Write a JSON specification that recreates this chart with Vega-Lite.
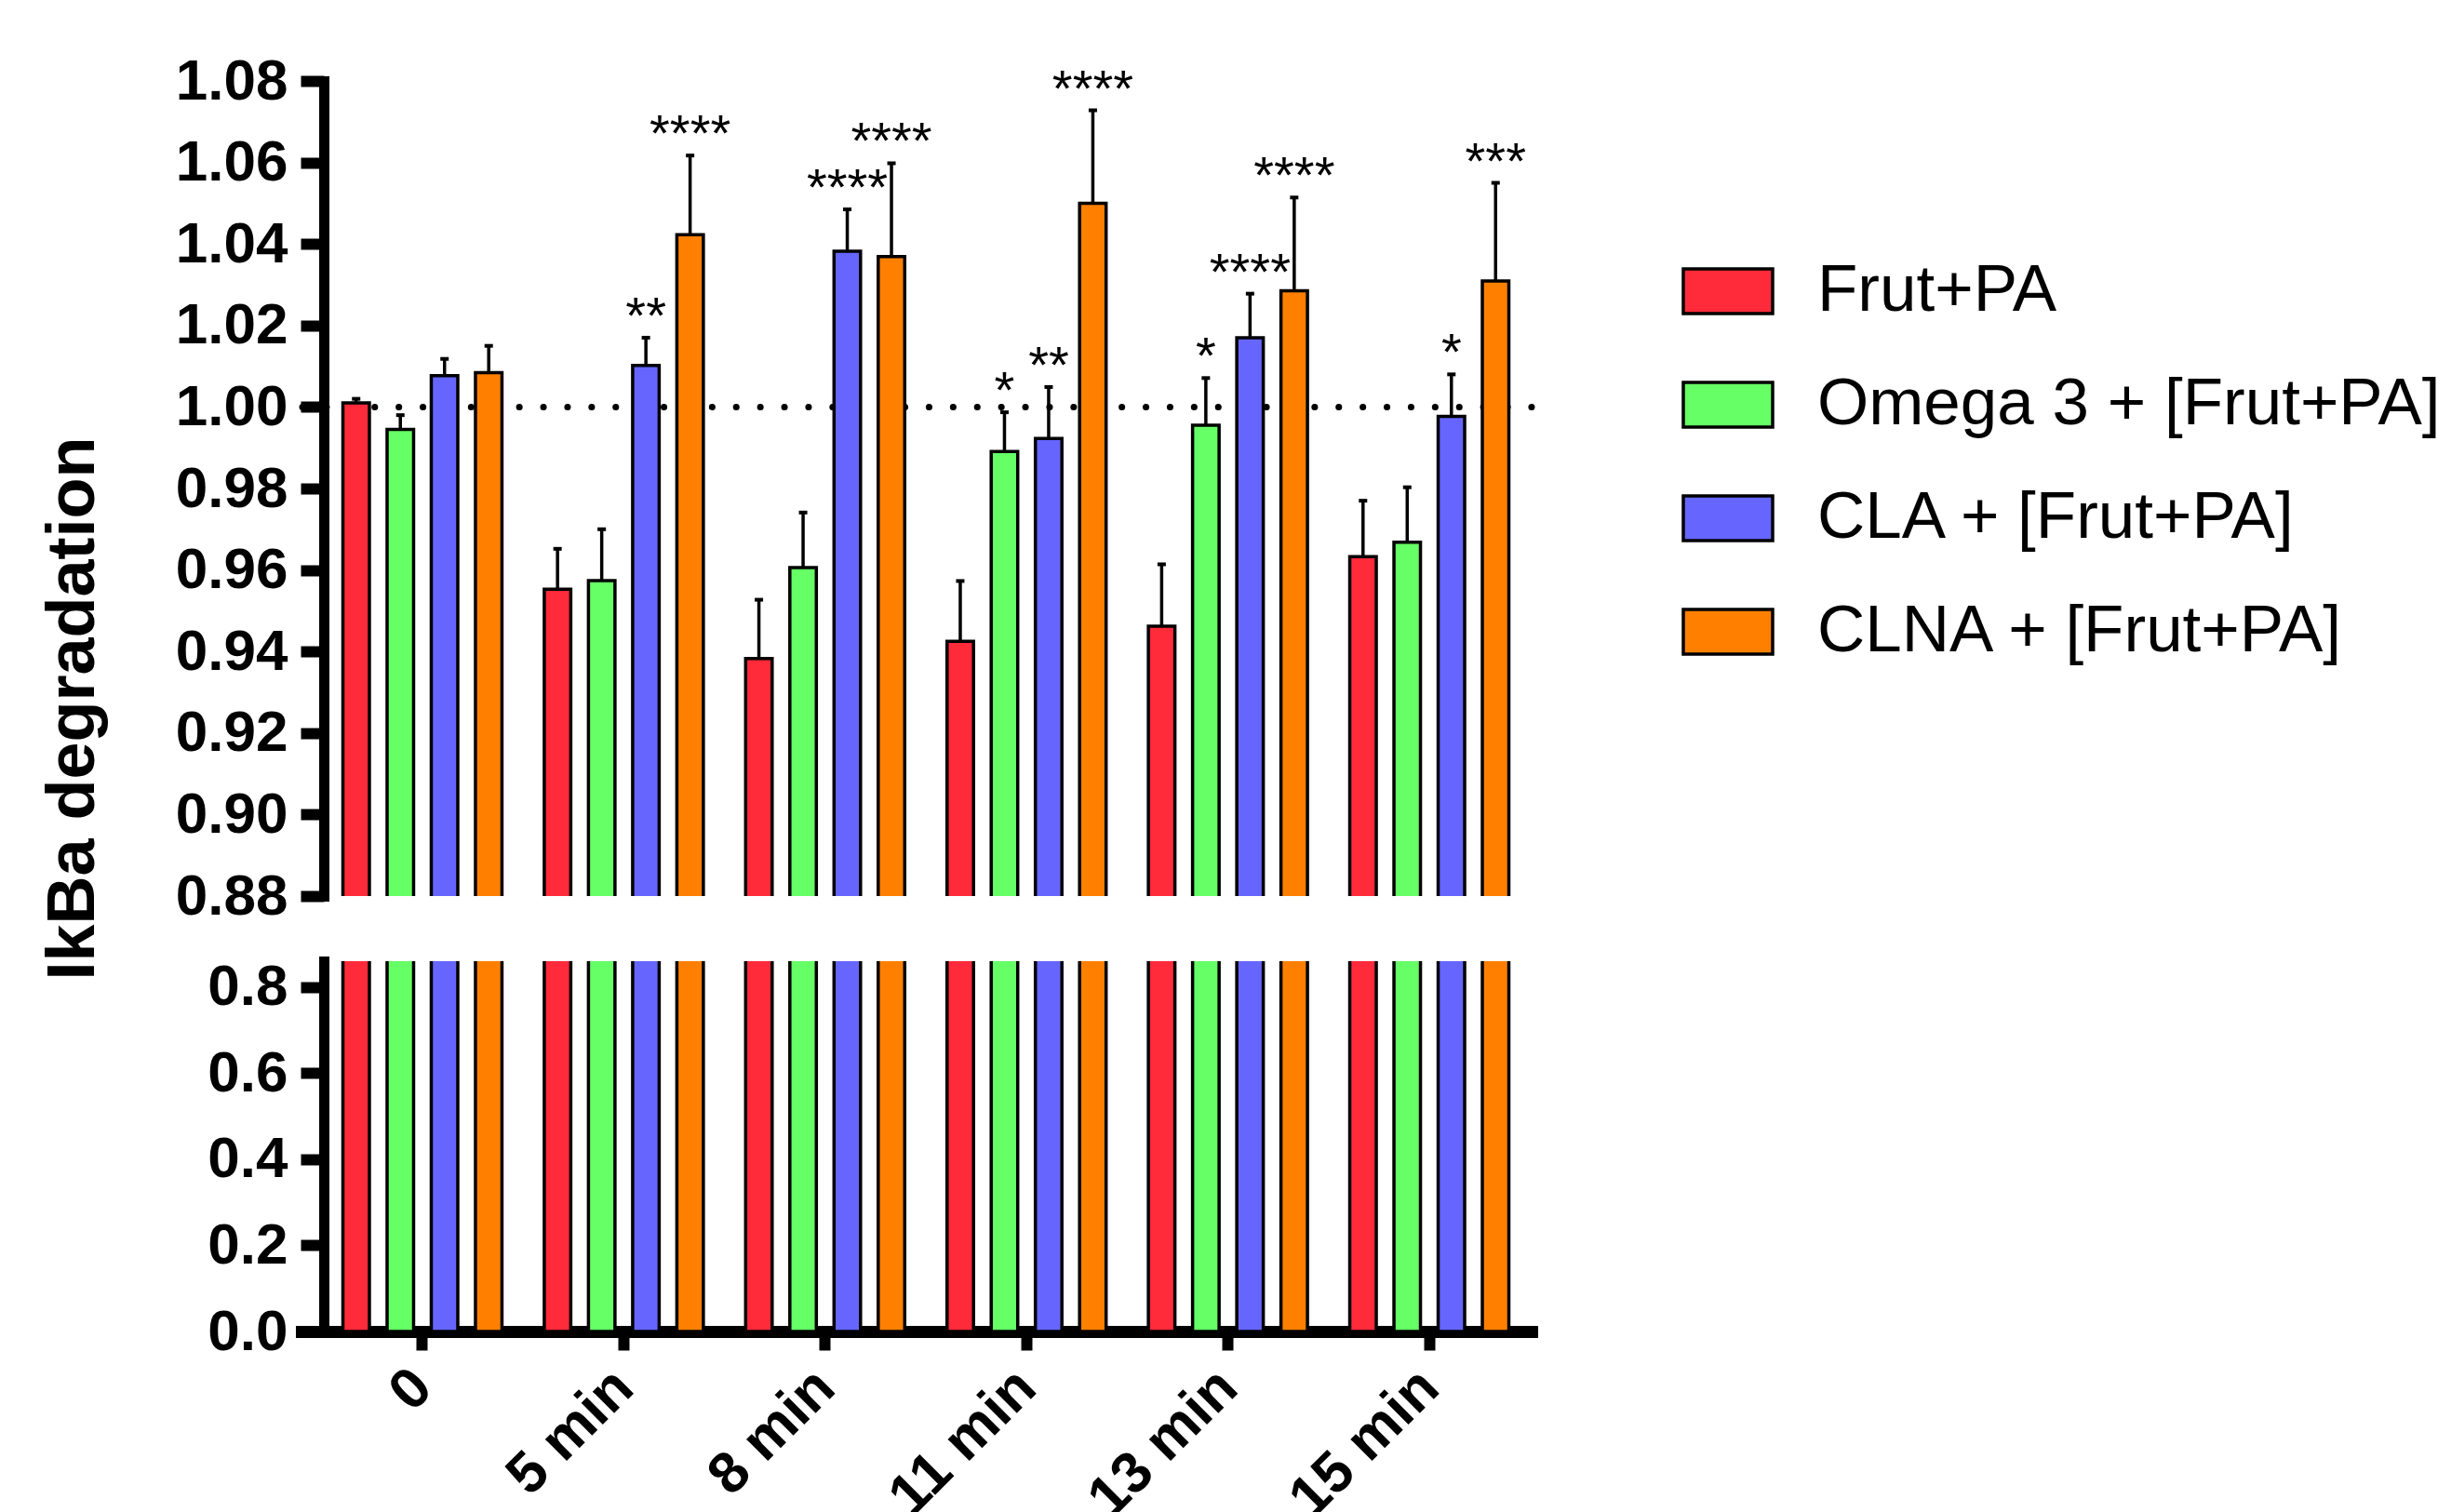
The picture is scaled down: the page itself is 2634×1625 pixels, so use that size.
{
  "$schema": "https://vega.github.io/schema/vega-lite/v6.json",
  "background": "white",
  "padding": {"left": 42, "top": 56, "right": 0, "bottom": 0},
  "autosize": {"type": "pad"},
  "bounds": "flush",
  "spacing": 70,
  "config": {
    "font": "Liberation Sans",
    "view": {"stroke": null},
    "axis": {
      "domainColor": "black", "tickColor": "black", "labelColor": "black", "titleColor": "black",
      "grid": false, "labelFont": "Liberation Sans", "labelFontWeight": "bold", "labelFontSize": 62,
      "domainWidth": 11, "tickWidth": 12, "domainCap": "square", "labelLimit": 1000
    }
  },
  "datasets": {
    "bars": [
      {"time": "0", "group": "Frut+PA", "mean": 1.001, "upper": 1.002, "stars": ""},
      {"time": "0", "group": "Omega 3 + [Frut+PA]", "mean": 0.9945, "upper": 0.998, "stars": ""},
      {"time": "0", "group": "CLA + [Frut+PA]", "mean": 1.0077, "upper": 1.0118, "stars": ""},
      {"time": "0", "group": "CLNA + [Frut+PA]", "mean": 1.0084, "upper": 1.015, "stars": ""},
      {"time": "5 min", "group": "Frut+PA", "mean": 0.9553, "upper": 0.9652, "stars": ""},
      {"time": "5 min", "group": "Omega 3 + [Frut+PA]", "mean": 0.9574, "upper": 0.97, "stars": ""},
      {"time": "5 min", "group": "CLA + [Frut+PA]", "mean": 1.0102, "upper": 1.017, "stars": "**"},
      {"time": "5 min", "group": "CLNA + [Frut+PA]", "mean": 1.0423, "upper": 1.0617, "stars": "****"},
      {"time": "8 min", "group": "Frut+PA", "mean": 0.9383, "upper": 0.9527, "stars": ""},
      {"time": "8 min", "group": "Omega 3 + [Frut+PA]", "mean": 0.9606, "upper": 0.9741, "stars": ""},
      {"time": "8 min", "group": "CLA + [Frut+PA]", "mean": 1.0382, "upper": 1.0485, "stars": "****"},
      {"time": "8 min", "group": "CLNA + [Frut+PA]", "mean": 1.0369, "upper": 1.0598, "stars": "****"},
      {"time": "11 min", "group": "Frut+PA", "mean": 0.9425, "upper": 0.9573, "stars": ""},
      {"time": "11 min", "group": "Omega 3 + [Frut+PA]", "mean": 0.9891, "upper": 0.9987, "stars": "*"},
      {"time": "11 min", "group": "CLA + [Frut+PA]", "mean": 0.9923, "upper": 1.0049, "stars": "**"},
      {"time": "11 min", "group": "CLNA + [Frut+PA]", "mean": 1.05, "upper": 1.0728, "stars": "****"},
      {"time": "13 min", "group": "Frut+PA", "mean": 0.9462, "upper": 0.9614, "stars": ""},
      {"time": "13 min", "group": "Omega 3 + [Frut+PA]", "mean": 0.9955, "upper": 1.0071, "stars": "*"},
      {"time": "13 min", "group": "CLA + [Frut+PA]", "mean": 1.017, "upper": 1.0278, "stars": "****"},
      {"time": "13 min", "group": "CLNA + [Frut+PA]", "mean": 1.0285, "upper": 1.0514, "stars": "****"},
      {"time": "15 min", "group": "Frut+PA", "mean": 0.9633, "upper": 0.977, "stars": ""},
      {"time": "15 min", "group": "Omega 3 + [Frut+PA]", "mean": 0.9668, "upper": 0.9803, "stars": ""},
      {"time": "15 min", "group": "CLA + [Frut+PA]", "mean": 0.9977, "upper": 1.008, "stars": "*"},
      {"time": "15 min", "group": "CLNA + [Frut+PA]", "mean": 1.0309, "upper": 1.055, "stars": "***"}
    ]
  },
  "resolve": {"scale": {"color": "shared"}},
  "vconcat": [
    {
      "width": 1322,
      "height": 876,
      "layer": [
        {
          "data": {"values": [{"ref": 1}]},
          "mark": {"type": "rule", "strokeDash": [0.1, 25.8], "strokeWidth": 7, "strokeCap": "round", "color": "black"},
          "encoding": {"y": {"field": "ref", "type": "quantitative", "scale": {"domain": [0.88, 1.08], "nice": false, "zero": false}}}
        },
        {
          "data": {"name": "bars"},
          "mark": {"type": "bar", "clip": true, "stroke": "black", "strokeWidth": 3.5},
          "encoding": {
            "x": {"field": "time", "type": "nominal", "sort": ["0", "5 min", "8 min", "11 min", "13 min", "15 min"], "scale": {"paddingInner": 0.21, "paddingOuter": 0.1594, "align": 0.645}, "axis": null},
            "xOffset": {"field": "group", "type": "nominal", "sort": ["Frut+PA", "Omega 3 + [Frut+PA]", "CLA + [Frut+PA]", "CLNA + [Frut+PA]"], "scale": {"paddingInner": 0.4, "paddingOuter": 0}},
            "y": {"field": "mean", "type": "quantitative", "scale": {"domain": [0.88, 1.08], "nice": false, "zero": false},
              "axis": {"title": "IkBa degradation", "titleFontSize": 72, "titleFontWeight": "bold", "titleFont": "Liberation Sans",
                "titleX": -270, "titleY": 674, "titleAngle": 270, "titleAlign": "center", "titleBaseline": "middle",
                "values": [0.88, 0.9, 0.92, 0.94, 0.96, 0.98, 1.0, 1.02, 1.04, 1.06, 1.08], "format": ".2f",
                "offset": -24, "tickSize": 25, "labelPadding": 14}},
            "y2": {"datum": 0},
            "color": {"field": "group", "type": "nominal",
              "scale": {"domain": ["Frut+PA", "Omega 3 + [Frut+PA]", "CLA + [Frut+PA]", "CLNA + [Frut+PA]"], "range": ["#FF2A3A", "#66FF66", "#6666FF", "#FF8000"]},
              "legend": {"title": null, "orient": "none", "legendX": 1483, "legendY": 176,
                "symbolType": "M-1,-0.5h2v1h-2z", "symbolSize": 9216, "symbolStrokeColor": "black", "symbolStrokeWidth": 3.5, "symbolOpacity": 1,
                "labelFontSize": 71, "labelFont": "Liberation Sans", "labelFontWeight": "normal", "labelColor": "black",
                "labelOffset": 46, "rowPadding": 37, "labelLimit": 1200}}
          }
        },
        {
          "data": {"name": "bars"},
          "mark": {"type": "rule", "clip": true, "strokeWidth": 3.5, "color": "black"},
          "encoding": {
            "x": {"field": "time", "type": "nominal", "sort": ["0", "5 min", "8 min", "11 min", "13 min", "15 min"]},
            "xOffset": {"field": "group", "type": "nominal", "sort": ["Frut+PA", "Omega 3 + [Frut+PA]", "CLA + [Frut+PA]", "CLNA + [Frut+PA]"]},
            "y": {"field": "mean", "type": "quantitative"},
            "y2": {"field": "upper"}
          }
        },
        {
          "data": {"name": "bars"},
          "mark": {"type": "tick", "clip": true, "orient": "horizontal", "thickness": 4, "size": 9, "color": "black", "opacity": 1},
          "encoding": {
            "x": {"field": "time", "type": "nominal", "sort": ["0", "5 min", "8 min", "11 min", "13 min", "15 min"]},
            "xOffset": {"field": "group", "type": "nominal", "sort": ["Frut+PA", "Omega 3 + [Frut+PA]", "CLA + [Frut+PA]", "CLNA + [Frut+PA]"]},
            "y": {"field": "upper", "type": "quantitative"}
          }
        },
        {
          "data": {"name": "bars"},
          "mark": {"type": "text", "fontSize": 56, "font": "Liberation Sans", "baseline": "alphabetic", "dy": -5, "color": "black"},
          "encoding": {
            "x": {"field": "time", "type": "nominal", "sort": ["0", "5 min", "8 min", "11 min", "13 min", "15 min"]},
            "xOffset": {"field": "group", "type": "nominal", "sort": ["Frut+PA", "Omega 3 + [Frut+PA]", "CLA + [Frut+PA]", "CLNA + [Frut+PA]"]},
            "y": {"field": "upper", "type": "quantitative"},
            "text": {"field": "stars"}
          }
        }
      ]
    },
    {
      "width": 1322,
      "height": 398,
      "data": {"name": "bars"},
      "mark": {"type": "bar", "clip": true, "stroke": "black", "strokeWidth": 3.5},
      "encoding": {
        "x": {"field": "time", "type": "nominal", "sort": ["0", "5 min", "8 min", "11 min", "13 min", "15 min"], "scale": {"paddingInner": 0.21, "paddingOuter": 0.1594, "align": 0.645},
          "axis": {"title": null, "labelAngle": -45, "labelAlign": "right", "labelBaseline": "middle", "tickSize": 20, "tickWidth": 12, "domainWidth": 13, "labelPadding": 30, "labelLimit": 1000}},
        "xOffset": {"field": "group", "type": "nominal", "sort": ["Frut+PA", "Omega 3 + [Frut+PA]", "CLA + [Frut+PA]", "CLNA + [Frut+PA]"], "scale": {"paddingInner": 0.4, "paddingOuter": 0}},
        "y": {"field": "mean", "type": "quantitative", "scale": {"domain": [0, 0.86], "nice": false},
          "axis": {"title": null, "values": [0, 0.2, 0.4, 0.6, 0.8], "format": ".1f", "offset": -24, "tickSize": 25, "labelPadding": 14}},
        "color": {"field": "group", "type": "nominal",
          "scale": {"domain": ["Frut+PA", "Omega 3 + [Frut+PA]", "CLA + [Frut+PA]", "CLNA + [Frut+PA]"], "range": ["#FF2A3A", "#66FF66", "#6666FF", "#FF8000"]},
          "legend": {"title": null, "orient": "none", "legendX": 1483, "legendY": 176,
            "symbolType": "M-1,-0.5h2v1h-2z", "symbolSize": 9216, "symbolStrokeColor": "black", "symbolStrokeWidth": 3.5, "symbolOpacity": 1,
            "labelFontSize": 71, "labelFont": "Liberation Sans", "labelFontWeight": "normal", "labelColor": "black",
            "labelOffset": 46, "rowPadding": 37, "labelLimit": 1200}}
      }
    }
  ]
}
